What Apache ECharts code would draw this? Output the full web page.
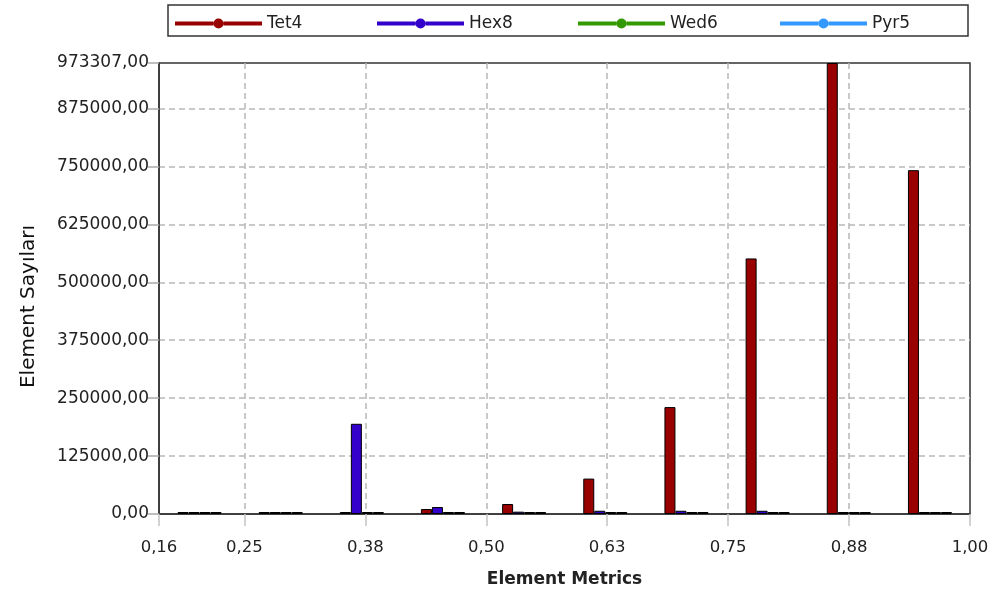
<!DOCTYPE html>
<html>
<head>
<meta charset="utf-8">
<script src="https://cdn.jsdelivr.net/npm/echarts@6/dist/echarts.min.js"></script>
<style>
html,body{margin:0;padding:0;background:#fff;}
#chart{width:993px;height:594px;}
</style>
</head>
<body>
<div id="chart"></div>
<script>
// ---- data ----
var seriesNames = ['Tet4', 'Hex8', 'Wed6', 'Pyr5'];
var binCenters = [0.2036, 0.2875, 0.3714, 0.4552, 0.5391, 0.6230, 0.7069, 0.7908, 0.8747, 0.9586];
var tet4 = [0, 0, 0, 10800, 21600, 76400, 230700, 551500, 973307, 742000];
var hex8 = [0, 0, 194700, 15100, 5000, 7000, 7000, 7000, 0, 0];
var wed6 = [0, 0, 0, 0, 0, 0, 0, 0, 0, 0];
var pyr5 = [0, 0, 0, 0, 0, 0, 0, 0, 0, 0];
var xTickValues = [0.1617, 0.25, 0.375, 0.5, 0.625, 0.75, 0.875, 1.0];
var xTickLabels = ['0,16', '0,25', '0,38', '0,50', '0,63', '0,75', '0,88', '1,00'];
var yTickValues = [0, 125000, 250000, 375000, 500000, 625000, 750000, 875000, 973307];
var yTickLabels = ['0,00', '125000,00', '250000,00', '375000,00', '500000,00', '625000,00', '750000,00', '875000,00', '973307,00'];
var colors = ['#990000', '#3300cc', '#339900', '#3399ff'];

var allValues = [tet4, hex8, wed6, pyr5];

function lookup(values, labels, v) {
  var best = 0, d = Infinity;
  for (var i = 0; i < values.length; i++) {
    var dd = Math.abs(values[i] - v);
    if (dd < d) { d = dd; best = i; }
  }
  return labels[best];
}

var FONT = '"DejaVu Sans", "Noto Sans", sans-serif';
var legendIcon = 'path://M0,8 L38.5,8 L38.5,12 L0,12 Z M48.5,8 L87,8 L87,12 L48.5,12 Z M38.5,10 A5,5 0 1,1 48.5,10 A5,5 0 1,1 38.5,10 Z';
var legendLefts = [170, 372, 573, 775];

var series = seriesNames.map(function (name, si) {
  return {
    name: name,
    type: 'bar',
    barWidth: 11,
    barGap: '0%',
    barMinHeight: 2,
    itemStyle: { color: colors[si], borderColor: '#000', borderWidth: 1 },
    emphasis: { disabled: true },
    data: binCenters.map(function (x, i) { return [x, allValues[si][i]]; })
  };
});

var legends = seriesNames.map(function (name, i) {
  return {
    top: 10,
    left: legendLefts[i],
    itemWidth: 87,
    itemHeight: 10,
    icon: legendIcon,
    data: [name],
    itemStyle: { borderWidth: 0 },
    textStyle: { fontFamily: FONT, fontSize: 17, color: '#222' },
    selectedMode: false
  };
});

var chart = echarts.init(document.getElementById('chart'), null, { renderer: 'canvas' });
chart.setOption({
  animation: false,
  backgroundColor: '#fff',
  color: colors,
  textStyle: { fontFamily: FONT },
  graphic: [{
    type: 'rect',
    shape: { x: 168, y: 5, width: 800, height: 31 },
    style: { fill: 'none', stroke: '#333', lineWidth: 1.5 },
    silent: true
  }],
  legend: legends,
  grid: {
    left: 159, right: 23, top: 63, bottom: 80,
    show: true, borderColor: '#333', borderWidth: 1.5
  },
  xAxis: {
    type: 'value',
    min: 0.1617,
    max: 1.0,
    name: 'Element Metrics',
    nameLocation: 'middle',
    nameGap: 57,
    nameTextStyle: { fontFamily: FONT, fontSize: 17, fontWeight: 'bold', color: '#222' },
    axisLine: { show: true, onZero: false, lineStyle: { color: '#333', width: 1.5 } },
    axisTick: { show: true, length: 12, customValues: xTickValues, lineStyle: { color: '#c4c4c4', width: 1.5 } },
    axisLabel: {
      customValues: xTickValues,
      margin: 25,
      fontFamily: FONT, fontSize: 16.5, color: '#222',
      formatter: function (v) { return lookup(xTickValues, xTickLabels, v); }
    },
    splitLine: { show: true, showMinLine: false, showMaxLine: false, lineStyle: { color: '#b8b8b8', width: 1.5, type: [6, 4] } }
  },
  yAxis: {
    type: 'value',
    min: 0,
    max: 973307,
    name: 'Element Sayıları',
    nameLocation: 'middle',
    nameGap: 120,
    nameTextStyle: { fontFamily: FONT, fontSize: 20, color: '#111', padding: [0, 36, 0, 0] },
    axisLine: { show: true, lineStyle: { color: '#333', width: 1.5 } },
    axisTick: { show: true, length: 11, customValues: yTickValues, lineStyle: { color: '#aaa', width: 1.5 } },
    axisLabel: {
      customValues: yTickValues,
      margin: 10,
      fontFamily: FONT, fontSize: 17, color: '#222',
      formatter: function (v) { return lookup(yTickValues, yTickLabels, v); }
    },
    splitLine: { show: true, showMinLine: false, showMaxLine: false, lineStyle: { color: '#b8b8b8', width: 1.5, type: [6, 4] } }
  },
  series: series
});
</script>
</body>
</html>
